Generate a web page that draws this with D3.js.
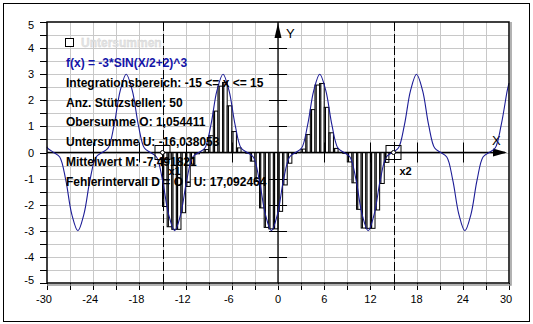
<!DOCTYPE html>
<html>
<head>
<meta charset="utf-8">
<script src="https://cdn.jsdelivr.net/npm/d3@7"></script>
<style>
  body { margin: 0; background: #fff; }
  svg { display: block; font-family: "Liberation Sans", Arial, sans-serif; }
</style>
</head>
<body>
<script>
// f(x) = -3*SIN(X/2+2)^3
const curveX = [-30, -29.92, -29.13, -28.35, -27.56, -26.78, -25.99, -25.21, -24.42, -23.63, -22.85,
  -22.06, -21.28, -20.49, -19.71, -18.92, -18.14, -17.35, -16.57, -15.78, -15.00,
  -14.21, -13.42, -12.64, -11.85, -11.07, -10.28, -9.50, -8.71, -7.93, -7.14,
  -6.36, -5.57, -4.79, -4.00, -3.21, -2.43, -1.64, -0.86, -0.07, 0.71,
  1.50, 2.28, 3.07, 3.85, 4.64, 5.42, 6.21, 7.00, 7.78, 8.57,
  9.35, 10.14, 10.92, 11.71, 12.49, 13.28, 14.06, 14.85, 15.63, 16.42,
  17.21, 17.99, 18.78, 19.56, 20.35, 21.13, 21.92, 22.70, 23.49, 24.27,
  25.06, 25.85, 26.63, 27.42, 28.20, 28.99, 29.77, 30];
const curveY = [0.22, 0.17, 0, -0.17, -1.06, -2.37, -3, -2.37, -1.06, -0.17, 0,
  0.17, 1.06, 2.37, 3, 2.37, 1.06, 0.17, 0, -0.17, -1.06,
  -2.37, -3, -2.37, -1.06, -0.17, 0, 0.17, 1.06, 2.37, 3,
  2.37, 1.06, 0.17, 0, -0.17, -1.06, -2.37, -3, -2.37, -1.06,
  -0.17, 0, 0.17, 1.06, 2.37, 3, 2.37, 1.06, 0.17, 0,
  -0.17, -1.06, -2.37, -3, -2.37, -1.06, -0.17, 0, 0.17, 1.06,
  2.37, 3, 2.37, 1.06, 0.17, 0, -0.17, -1.06, -2.37, -3,
  -2.37, -1.06, -0.17, 0, 0.17, 1.06, 2.37, 2.66];

// lower sum rectangles, 50 intervals on [-15, 15]
const rangeLo = -15, rangeHi = 15, nIntervals = 50;
const lowerSum = [-2.069, -2.845, -2.944, -2.944, -2.307, -1.300, -0.446, -0.050, 0.000, 0.113,
  0.643, 1.586, 2.542, 2.684, 1.788, 0.802, 0.177, 0.003, -0.024, -0.331,
  -1.108, -2.123, -2.870, -2.926, -2.926, -2.255, -1.244, -0.411, -0.041, 0.001,
  0.130, 0.687, 1.644, 2.585, 2.645, 1.730, 0.755, 0.157, 0.002, -0.030,
  -0.362, -1.162, -2.178, -2.895, -2.906, -2.906, -2.203, -1.188, -0.378, -0.033];

const xTickLabels = [-30, -24, -18, -12, -6, 0, 6, 12, 18, 24, 30];
const yTickLabels = [5, 4, 3, 2, 1, 0, -1, -2, -3, -4, -5];

const infoLines = [
  "f(x) = -3*SIN(X/2+2)^3",
  "Integrationsbereich: -15 <= x <= 15",
  "Anz. Stützstellen: 50",
  "Obersumme O: 1,054411",
  "Untersumme U: -16,038053",
  "Mittelwert M: -7,491821",
  "Fehlerintervall D = O - U: 17,092464"
];

const W = 533, H = 324;
const svg = d3.select("body").append("svg").attr("width", W).attr("height", H);

// outer frame
svg.append("rect").attr("x", 3.5).attr("y", 3.5).attr("width", 526).attr("height", 318)
  .attr("fill", "#fff").attr("stroke", "#000");

const x = d3.scaleLinear().domain([-30, 30]).range([47, 509]);
const y = d3.scaleLinear().domain([-5, 5]).range([283, 22]);

// grid
const grid = svg.append("g").attr("stroke", "#c8c8c8").attr("stroke-width", 1);
grid.selectAll(".gv").data(d3.range(-27, 30, 3)).join("line")
  .attr("x1", d => Math.round(x(d)) + 0.5).attr("x2", d => Math.round(x(d)) + 0.5)
  .attr("y1", y(5)).attr("y2", y(-5));
grid.selectAll(".gh").data(d3.range(-4.5, 5, 0.5)).join("line")
  .attr("y1", d => Math.round(y(d)) + 0.5).attr("y2", d => Math.round(y(d)) + 0.5)
  .attr("x1", x(-30)).attr("x2", x(30));

// outside ticks + labels
const outer = svg.append("g").attr("stroke", "#000");
outer.selectAll(".ty").data(d3.range(-5, 5.01, 0.5)).join("line")
  .attr("x1", 40).attr("x2", 47)
  .attr("y1", d => Math.round(y(d)) + 0.5).attr("y2", d => Math.round(y(d)) + 0.5);
outer.selectAll(".tx").data(d3.range(-30, 30.01, 3)).join("line")
  .attr("y1", 283).attr("y2", 290)
  .attr("x1", d => Math.round(x(d)) + 0.5).attr("x2", d => Math.round(x(d)) + 0.5);

svg.append("g").attr("font-size", 11).attr("fill", "#000").attr("text-anchor", "end")
  .selectAll("text").data(yTickLabels).join("text")
  .attr("x", 34)
  .attr("y", d => y(d) + 4 + (d === 5 ? 3 : d === -5 ? -3 : 0))
  .text(d => d);

svg.append("g").attr("font-size", 11).attr("fill", "#000").attr("text-anchor", "middle")
  .selectAll("text").data(xTickLabels).join("text")
  .attr("x", d => x(d) - (d < 0 ? 3 : 0) - (d === 30 ? 3 : 0))
  .attr("y", 303)
  .text(d => d);

// lower sum bars
const step = (rangeHi - rangeLo) / nIntervals;
const bars = svg.append("g");
bars.selectAll("rect").data(lowerSum).join("rect")
  .attr("x", (d, i) => x(rangeLo + i * step))
  .attr("width", x(step) - x(0))
  .attr("y", d => Math.min(y(d), y(0)))
  .attr("height", d => Math.abs(y(d) - y(0)))
  .attr("fill", "#fff").attr("stroke", "#000").attr("stroke-width", 1);
bars.selectAll("line").data(lowerSum).join("line")
  .attr("x1", (d, i) => x(rangeLo + i * step) + 1.2)
  .attr("x2", (d, i) => x(rangeLo + i * step) + 1.2)
  .attr("y1", y(0)).attr("y2", d => y(d))
  .attr("stroke", "#000").attr("stroke-width", 1.2);

// integration bounds
svg.append("g").selectAll("line").data([rangeLo, rangeHi]).join("line")
  .attr("x1", d => Math.round(x(d)) + 0.5).attr("x2", d => Math.round(x(d)) + 0.5)
  .attr("y1", y(5)).attr("y2", y(-5))
  .attr("stroke", "#000").attr("stroke-dasharray", "9,3");

// axes
const axes = svg.append("g").attr("stroke", "#000");
axes.append("line").attr("x1", x(0)).attr("x2", x(0)).attr("y1", y(5)).attr("y2", y(-5)).attr("stroke-width", 1.3);
axes.append("line").attr("x1", x(-30)).attr("x2", x(30) - 4).attr("y1", y(0)).attr("y2", y(0)).attr("stroke-width", 1.3);
axes.selectAll(".ay").data([4, 3, 2, 1, -1, -2, -3, -4]).join("line")
  .attr("x1", x(0) - 9).attr("x2", x(0) + 9)
  .attr("y1", d => Math.round(y(d)) + 0.5).attr("y2", d => Math.round(y(d)) + 0.5);
axes.selectAll(".ax").data([-24, -18, -12, -6, 6, 12, 18, 24]).join("line")
  .attr("y1", y(0) - 10).attr("y2", y(0) + 10)
  .attr("x1", d => Math.round(x(d)) + 0.5).attr("x2", d => Math.round(x(d)) + 0.5);
svg.append("path")
  .attr("d", `M${x(0)},${y(5) + 1} L${x(0) - 3.5},${y(5) + 16} L${x(0) + 3.5},${y(5) + 16} Z`)
  .attr("fill", "#000");
svg.append("path")
  .attr("d", `M${x(30) - 2},${y(0)} L${x(30) - 16},${y(0) - 4} L${x(30) - 16},${y(0) + 4} Z`)
  .attr("fill", "#000");
svg.append("text").attr("x", x(0) + 8).attr("y", y(5) + 16).attr("font-size", 13).text("Y");
svg.append("text").attr("x", x(30) - 17).attr("y", y(0) - 8).attr("font-size", 13).text("X");

// function curve
const pts = curveX.map((v, i) => [v, curveY[i]]);
svg.append("path")
  .datum(pts)
  .attr("d", d3.line().x(d => x(d[0])).y(d => y(d[1])).curve(d3.curveCatmullRom))
  .attr("fill", "none").attr("stroke", "#1c1c96").attr("stroke-width", 1.1);

// markers at the bounds
const markers = svg.append("g");
markers.selectAll("rect").data([rangeLo, rangeHi]).join("rect")
  .attr("x", d => x(d) - 7.5).attr("y", y(0) - 7).attr("width", 15).attr("height", 14)
  .attr("fill", "none").attr("stroke", "#000");
markers.selectAll("circle").data([rangeLo, rangeHi]).join("circle")
  .attr("cx", d => x(d)).attr("cy", y(0)).attr("r", 2)
  .attr("fill", "#fff").attr("stroke", "#000");
markers.selectAll("text").data(["x1", "x2"]).join("text")
  .attr("x", (d, i) => x([rangeLo, rangeHi][i]) + 6).attr("y", y(0) + 22)
  .attr("font-size", 11).attr("font-weight", "bold").text(d => d);

// plot border
svg.append("rect").attr("x", 47).attr("y", 22).attr("width", 462).attr("height", 261)
  .attr("fill", "none").attr("stroke", "#000").attr("stroke-width", 1.5);
svg.append("path").attr("d", "M511,22 V285 H47").attr("fill", "none").attr("stroke", "#999").attr("stroke-width", 1.5);

// info text
svg.append("rect").attr("x", 65.5).attr("y", 38.5).attr("width", 8).attr("height", 8)
  .attr("fill", "#fff").attr("stroke", "#000");
svg.append("text").attr("x", 81).attr("y", 47).attr("font-size", 12).attr("font-weight", "bold")
  .attr("fill", "#e4e4e4").attr("stroke", "#cfcfcf").attr("stroke-width", 0.3).text("Untersummen");
svg.append("g").attr("font-size", 12).attr("font-weight", "bold")
  .selectAll("text").data(infoLines).join("text")
  .attr("x", 66).attr("y", (d, i) => 67 + i * 19.8)
  .attr("fill", (d, i) => i === 0 ? "#1414a8" : "#000")
  .text(d => d);
</script>
</body>
</html>
